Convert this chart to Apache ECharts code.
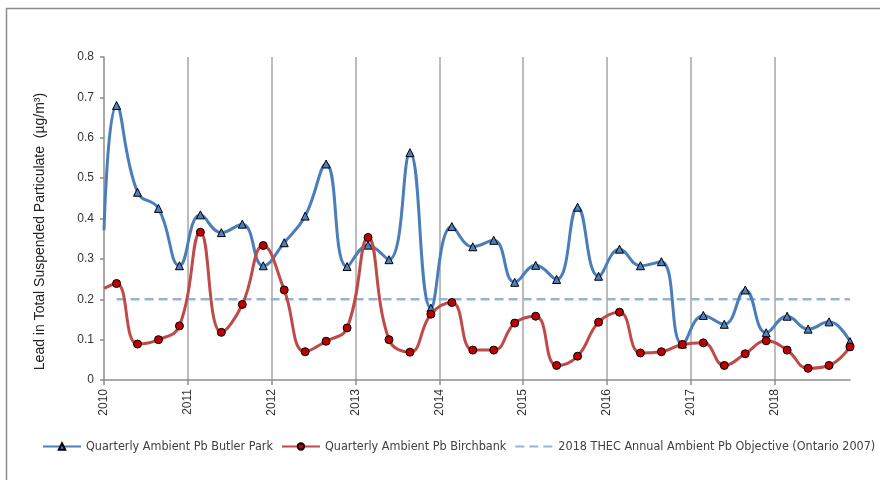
<!DOCTYPE html>
<html>
<head>
<meta charset="utf-8">
<script src="https://cdn.jsdelivr.net/npm/echarts@6/dist/echarts.min.js"></script>
<style>
  html, body { margin: 0; padding: 0; background: #fff; }
  #chart { width: 880px; height: 480px; }
</style>
</head>
<body>
<div id="chart"></div>
<script>
// quarterly sample dates as decimal years
let quarters = [
    2010.15, 2010.40, 2010.65, 2010.90,
    2011.15, 2011.40, 2011.65, 2011.90,
    2012.15, 2012.40, 2012.65, 2012.90,
    2013.15, 2013.40, 2013.65, 2013.90,
    2014.15, 2014.40, 2014.65, 2014.90,
    2015.15, 2015.40, 2015.65, 2015.90,
    2016.15, 2016.40, 2016.65, 2016.90,
    2017.15, 2017.40, 2017.65, 2017.90,
    2018.15, 2018.40, 2018.65, 2018.90
];
let butlerPark = [
    0.68, 0.465, 0.425, 0.283,
    0.409, 0.365, 0.386, 0.283,
    0.34, 0.406, 0.535, 0.281,
    0.334, 0.298, 0.563, 0.178,
    0.38, 0.33, 0.346, 0.242,
    0.284, 0.249, 0.428, 0.257,
    0.324, 0.283, 0.293, 0.089,
    0.16, 0.138, 0.223, 0.117,
    0.158, 0.126, 0.144, 0.095
];
let birchbank = [
    0.239, 0.089, 0.10, 0.134,
    0.366, 0.118, 0.187, 0.333,
    0.223, 0.07, 0.096, 0.129,
    0.353, 0.10, 0.069, 0.163,
    0.192, 0.074, 0.074, 0.141,
    0.158, 0.036, 0.059, 0.143,
    0.168, 0.067, 0.07, 0.088,
    0.092, 0.036, 0.065, 0.097,
    0.074, 0.029, 0.036, 0.082
];
// curve values where the lines enter at the left edge (2010)
let edgeYear = 2010;
let butlerEdge = 0.371;
let birchEdge = 0.227;
let objective = 0.2;
let years = [2010, 2011, 2012, 2013, 2014, 2015, 2016, 2017, 2018];

let names = [
    'Quarterly Ambient Pb Butler Park',
    'Quarterly Ambient Pb Birchbank',
    '2018 THEC Annual Ambient Pb Objective (Ontario 2007)'
];

let toPairs = function (edge, vals) {
    let out = [{value: [edgeYear, edge], symbol: 'none'}];
    vals.forEach(function (v, i) {
        out.push([quarters[i], v]);
    });
    return out;
};

let chart = echarts.init(document.getElementById('chart'));
let axisColor = '#8c8c8c';
let labelFont = {fontFamily: 'Liberation Sans, Arial, sans-serif', fontSize: 12, color: '#333'};

chart.setOption({
    backgroundColor: '#fff',
    animation: false,
    graphic: [{
        type: 'rect',
        shape: {x: 6.5, y: 8.5, width: 900, height: 520},
        style: {fill: null, stroke: '#8c8c8c', lineWidth: 1.5},
        silent: true
    }],
    grid: {left: 104, right: 30, top: 57, bottom: 100},
    legend: {
        left: 42,
        top: 440,
        width: 838,
        padding: 0,
        itemWidth: 38,
        itemHeight: 8,
        itemGap: 8,
        textStyle: {fontFamily: 'Liberation Sans Narrow, DejaVu Sans Condensed, sans-serif', fontSize: 12.5, color: '#404040'},
        data: [
            {name: names[0]},
            {name: names[1]},
            {name: names[2], itemStyle: {opacity: 0}}
        ]
    },
    xAxis: {
        type: 'value',
        min: 2010,
        max: 2018.9,
        interval: 1,
        axisLine: {lineStyle: {color: axisColor, width: 1.5}},
        axisTick: {show: true, length: 5, customValues: years, lineStyle: {color: axisColor, width: 1.5}},
        axisLabel: Object.assign({
            rotate: 90,
            margin: 9,
            customValues: years,
            formatter: function (v) { return Number.isInteger(v) ? String(v) : ''; }
        }, labelFont),
        splitLine: {show: true, showMinLine: false, lineStyle: {color: '#a6a6a6', width: 1.5}}
    },
    yAxis: {
        type: 'value',
        min: 0,
        max: 0.8,
        interval: 0.1,
        name: 'Lead in Total Suspended Particulate  (µg/m³)',
        nameLocation: 'middle',
        nameGap: 57,
        nameTextStyle: {fontFamily: 'Liberation Sans, Arial, sans-serif', fontSize: 14, color: '#222', padding: [0, 26, 0, 0]},
        axisLine: {show: true, lineStyle: {color: axisColor, width: 1.5}},
        axisTick: {show: true, length: 4, lineStyle: {color: axisColor, width: 1.5}},
        axisLabel: Object.assign({margin: 10}, labelFont),
        splitLine: {show: false}
    },
    series: [
        {
            name: names[0],
            type: 'line',
            smooth: 0.45,
            data: toPairs(butlerEdge, butlerPark),
            symbol: 'triangle',
            symbolSize: 8,
            lineStyle: {color: '#4a7ebb', width: 3},
            itemStyle: {color: '#4f81bd', borderColor: '#000', borderWidth: 1},
            z: 3
        },
        {
            name: names[1],
            type: 'line',
            smooth: 0.45,
            data: toPairs(birchEdge, birchbank),
            symbol: 'circle',
            symbolSize: 8,
            lineStyle: {color: '#be4b48', width: 3},
            itemStyle: {color: '#c00000', borderColor: '#000', borderWidth: 1},
            z: 4
        },
        {
            name: names[2],
            type: 'line',
            data: [[quarters[0], objective], [quarters[quarters.length - 1], objective]],
            symbol: 'none',
            lineStyle: {color: '#95b3d7', width: 2.5, type: [9, 5]},
            itemStyle: {color: '#95b3d7'},
            z: 2
        }
    ]
});
</script>
</body>
</html>
